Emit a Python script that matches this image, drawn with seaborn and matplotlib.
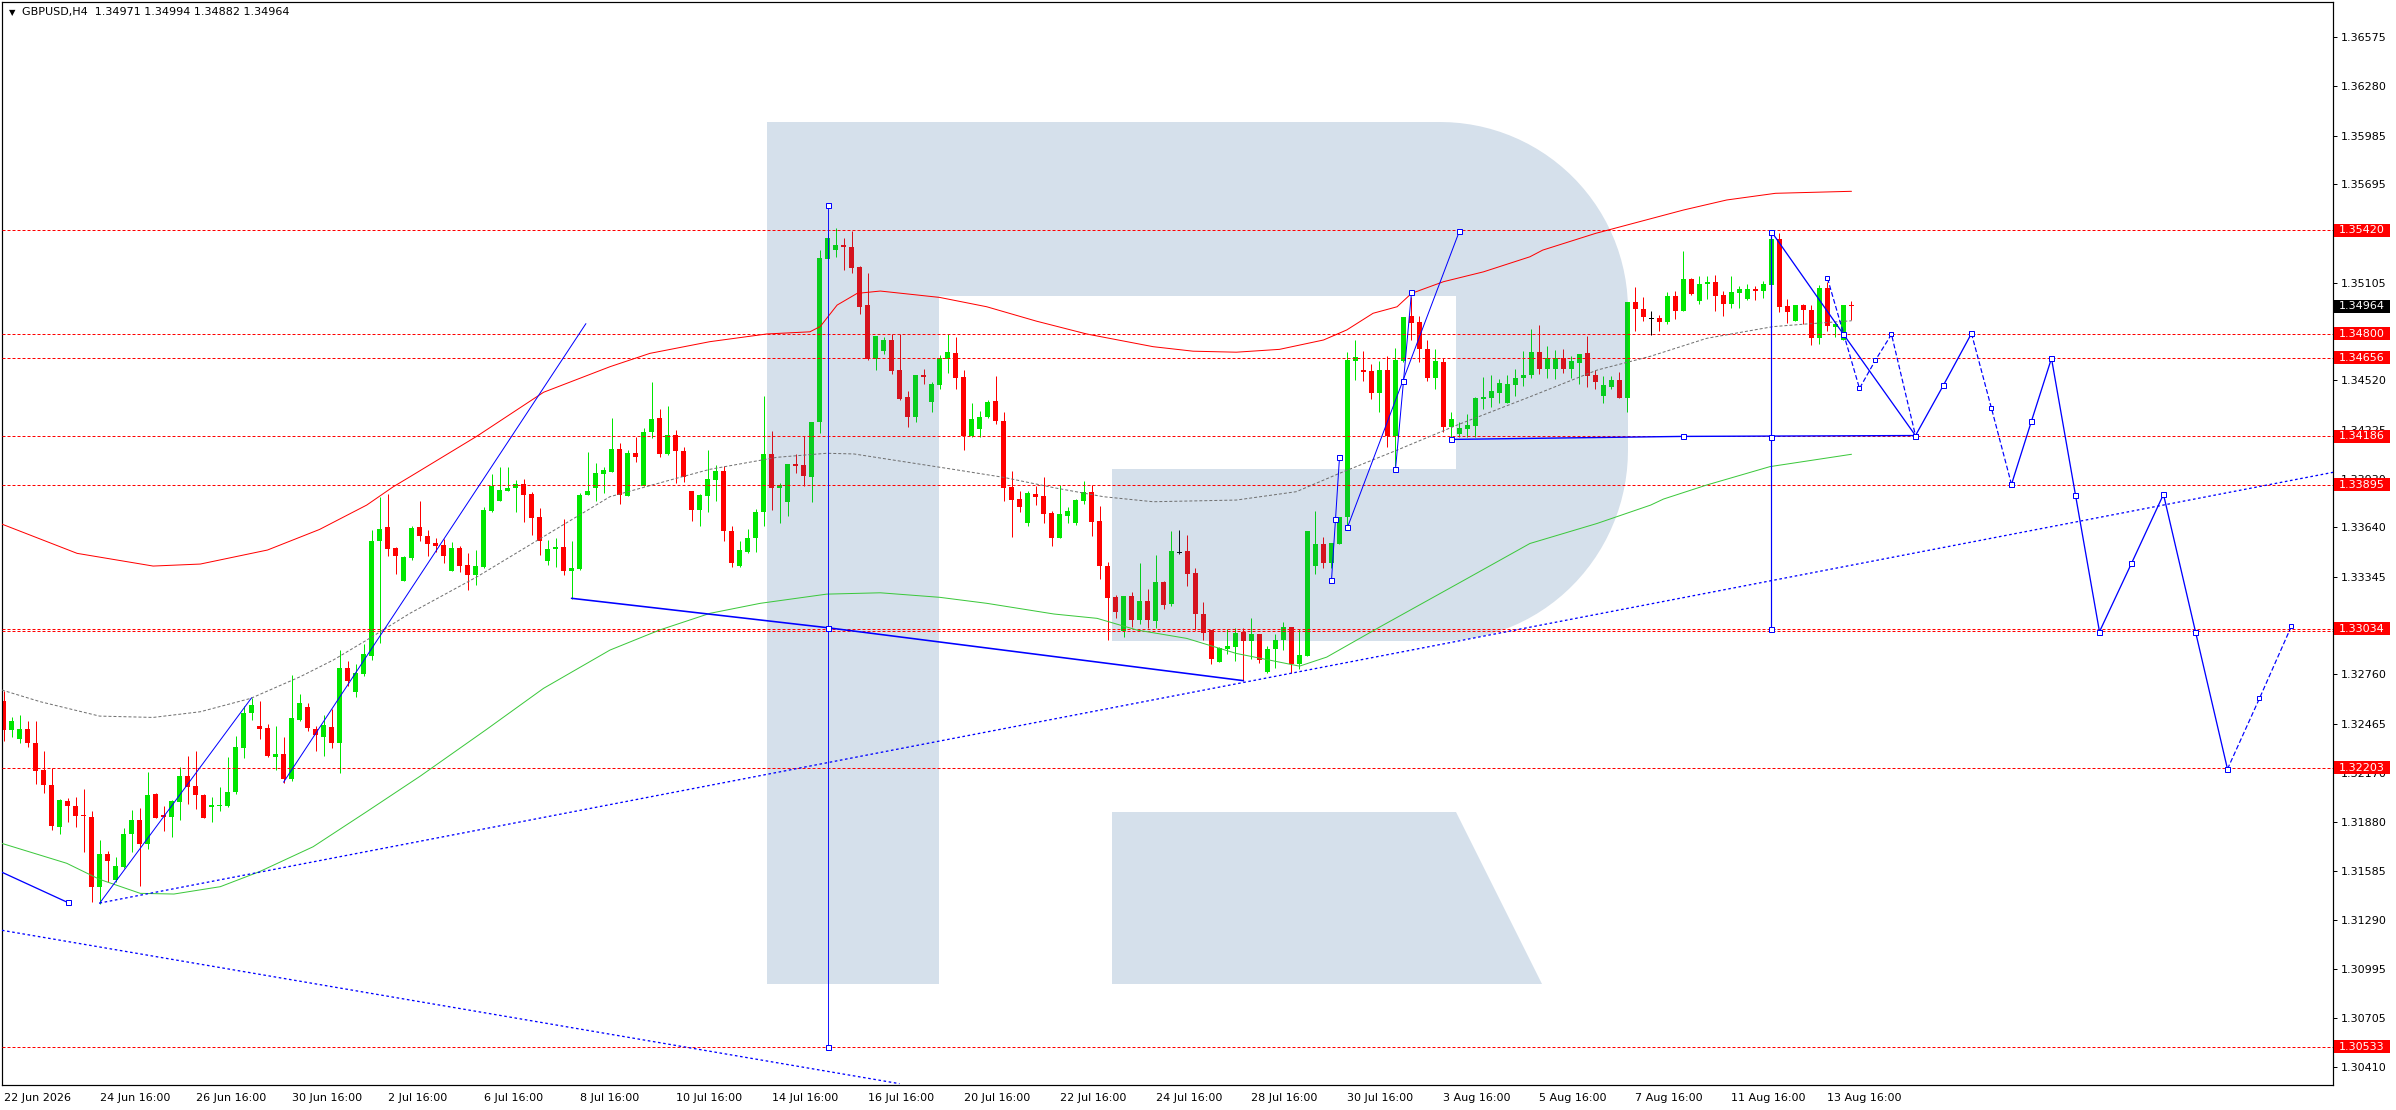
import matplotlib
matplotlib.use("Agg")
import matplotlib.pyplot as plt
import matplotlib.transforms as mtransforms
from matplotlib.path import Path
from matplotlib.patches import PathPatch, Rectangle
import numpy as np
import pandas as pd
import seaborn as sns

sns.set_style("white")
plt.rcParams["font.family"] = ["DejaVu Sans"]

SYMBOL = "GBPUSD,H4"
FIRST_BAR = -12  # bar 0 = 24 Jun 16:00

# H4 bars as (open, high, low, close)
bars_jun = [
    (1.32600, 1.32664, 1.32360, 1.32430), (1.32428, 1.32504, 1.32384, 1.32480),
    (1.32374, 1.32520, 1.32350, 1.32436), (1.32436, 1.32484, 1.32326, 1.32350),
    (1.32352, 1.32480, 1.32104, 1.32180), (1.32186, 1.32300, 1.32050, 1.32100),
    (1.32100, 1.32200, 1.31830, 1.31854), (1.31846, 1.32014, 1.31804, 1.32006),
    (1.32000, 1.32020, 1.31880, 1.31972), (1.31974, 1.32024, 1.31850, 1.31914),
    (1.31918, 1.32076, 1.31696, 1.31912), (1.31908, 1.31940, 1.31396, 1.31488),
    (1.31490, 1.31770, 1.31384, 1.31686), (1.31686, 1.31706, 1.31520, 1.31642),
    (1.31528, 1.31668, 1.31520, 1.31616), (1.31610, 1.31840, 1.31600, 1.31808),
    (1.31806, 1.31950, 1.31700, 1.31890), (1.31890, 1.31960, 1.31494, 1.31744),
    (1.31744, 1.32174, 1.31716, 1.32040), (1.32042, 1.32050, 1.31900, 1.31900),
    (1.31920, 1.31970, 1.31824, 1.31910), (1.31910, 1.32008, 1.31786, 1.32000),
    (1.31996, 1.32208, 1.31890, 1.32150), (1.32150, 1.32270, 1.31984, 1.32086),
    (1.32090, 1.32304, 1.31954, 1.32040), (1.32040, 1.32044, 1.31900, 1.31900),
    (1.31966, 1.32024, 1.31876, 1.31976), (1.31970, 1.32084, 1.31944, 1.31976),
    (1.31970, 1.32264, 1.31964, 1.32054), (1.32054, 1.32390, 1.32044, 1.32324),
    (1.32320, 1.32574, 1.32260, 1.32528), (1.32530, 1.32620, 1.32488, 1.32576),
    (1.32450, 1.32600, 1.32374, 1.32436), (1.32438, 1.32464, 1.32266, 1.32272),
    (1.32266, 1.32454, 1.32190, 1.32286), (1.32286, 1.32386, 1.32110, 1.32136),
    (1.32136, 1.32754, 1.32120, 1.32498), (1.32488, 1.32644, 1.32480, 1.32592),
    (1.32564, 1.32588, 1.32424, 1.32440), (1.32436, 1.32450, 1.32304, 1.32400),
    (1.32388, 1.32516, 1.32272, 1.32456), (1.32448, 1.32554, 1.32320, 1.32350),
    (1.32350, 1.32904, 1.32170, 1.32796), (1.32796, 1.32840, 1.32690, 1.32724),
    (1.32656, 1.32820, 1.32628, 1.32766), (1.32764, 1.32940, 1.32750, 1.32880),
    (1.32870, 1.33624, 1.32848, 1.33560), (1.33556, 1.33820, 1.32950, 1.33632),
    (1.33644, 1.33840, 1.33470, 1.33514), (1.33516, 1.33524, 1.33364, 1.33470),
    (1.33320, 1.33470, 1.33320, 1.33464), (1.33460, 1.33650, 1.33444, 1.33636),
]
bars_jul_a = [
    (1.33640, 1.33800, 1.33556, 1.33586), (1.33590, 1.33624, 1.33470, 1.33544),
    (1.33548, 1.33576, 1.33496, 1.33532), (1.33536, 1.33570, 1.33430, 1.33470),
    (1.33380, 1.33554, 1.33380, 1.33516), (1.33518, 1.33530, 1.33376, 1.33410),
    (1.33416, 1.33490, 1.33266, 1.33356), (1.33356, 1.33506, 1.33296, 1.33410),
    (1.33404, 1.33760, 1.33396, 1.33746), (1.33740, 1.33960, 1.33730, 1.33888),
    (1.33800, 1.34000, 1.33796, 1.33866), (1.33860, 1.34004, 1.33860, 1.33878),
    (1.33876, 1.33924, 1.33734, 1.33902), (1.33902, 1.33932, 1.33674, 1.33836),
    (1.33842, 1.33854, 1.33594, 1.33694), (1.33704, 1.33754, 1.33474, 1.33556),
    (1.33440, 1.33564, 1.33414, 1.33512), (1.33514, 1.33576, 1.33404, 1.33522),
    (1.33524, 1.33692, 1.33358, 1.33382), (1.33382, 1.33560, 1.33210, 1.33398),
    (1.33390, 1.33846, 1.33384, 1.33836), (1.33832, 1.34094, 1.33832, 1.33858),
    (1.33874, 1.34028, 1.33800, 1.33968), (1.33962, 1.34000, 1.33848, 1.33984),
    (1.33974, 1.34298, 1.33970, 1.34112), (1.34112, 1.34146, 1.33780, 1.33832),
    (1.33830, 1.34104, 1.33826, 1.34088), (1.34088, 1.34184, 1.34030, 1.34064),
    (1.33890, 1.34238, 1.33886, 1.34214), (1.34210, 1.34510, 1.34176, 1.34292),
    (1.34296, 1.34350, 1.34064, 1.34082), (1.34082, 1.34364, 1.34076, 1.34194),
    (1.34196, 1.34222, 1.33904, 1.34096), (1.34100, 1.34120, 1.33910, 1.33940),
    (1.33860, 1.33860, 1.33676, 1.33746), (1.33746, 1.33840, 1.33650, 1.33832),
    (1.33826, 1.34106, 1.33730, 1.33932), (1.33926, 1.34016, 1.33800, 1.33980),
    (1.33980, 1.34010, 1.33556, 1.33616), (1.33620, 1.33650, 1.33406, 1.33430),
    (1.33410, 1.33560, 1.33406, 1.33506), (1.33494, 1.33632, 1.33490, 1.33578),
    (1.33574, 1.33750, 1.33496, 1.33734), (1.33730, 1.34424, 1.33646, 1.34080),
    (1.34080, 1.34220, 1.33744, 1.33876), (1.33876, 1.33904, 1.33666, 1.33896),
    (1.33790, 1.34022, 1.33706, 1.34022), (1.34022, 1.34080, 1.33968, 1.34006),
    (1.34016, 1.34188, 1.33888, 1.33946), (1.33940, 1.34274, 1.33790, 1.34274),
]
bars_jul_b = [
    (1.34270, 1.35300, 1.34204, 1.35250), (1.35246, 1.35400, 1.35246, 1.35374),
    (1.35300, 1.35434, 1.35260, 1.35332), (1.35330, 1.35370, 1.35180, 1.35316),
    (1.35320, 1.35416, 1.35164, 1.35194), (1.35200, 1.35204, 1.34916, 1.34960),
    (1.34970, 1.35164, 1.34640, 1.34646), (1.34650, 1.34786, 1.34580, 1.34786),
    (1.34696, 1.34780, 1.34676, 1.34760), (1.34760, 1.34796, 1.34556, 1.34574),
    (1.34580, 1.34796, 1.34404, 1.34410), (1.34420, 1.34454, 1.34244, 1.34300),
    (1.34304, 1.34550, 1.34270, 1.34550), (1.34550, 1.34586, 1.34496, 1.34540),
    (1.34388, 1.34510, 1.34330, 1.34496), (1.34490, 1.34674, 1.34470, 1.34654),
    (1.34650, 1.34800, 1.34564, 1.34688), (1.34682, 1.34780, 1.34466, 1.34534),
    (1.34538, 1.34580, 1.34106, 1.34190), (1.34190, 1.34384, 1.34184, 1.34292),
    (1.34228, 1.34340, 1.34180, 1.34304), (1.34300, 1.34400, 1.34296, 1.34392),
    (1.34394, 1.34546, 1.34260, 1.34280), (1.34280, 1.34330, 1.33800, 1.33874),
    (1.33880, 1.33980, 1.33580, 1.33806), (1.33810, 1.33860, 1.33730, 1.33760),
    (1.33668, 1.33860, 1.33650, 1.33844), (1.33842, 1.33890, 1.33776, 1.33820),
    (1.33830, 1.33940, 1.33666, 1.33720), (1.33724, 1.33736, 1.33530, 1.33574),
    (1.33574, 1.33896, 1.33574, 1.33718), (1.33710, 1.33760, 1.33666, 1.33740),
    (1.33668, 1.33810, 1.33654, 1.33804), (1.33800, 1.33920, 1.33780, 1.33854),
    (1.33854, 1.33896, 1.33586, 1.33670), (1.33676, 1.33768, 1.33334, 1.33410),
    (1.33410, 1.33436, 1.32966, 1.33220), (1.33226, 1.33236, 1.33100, 1.33136),
    (1.33020, 1.33230, 1.32986, 1.33230), (1.33230, 1.33254, 1.33044, 1.33086),
    (1.33086, 1.33430, 1.33064, 1.33200), (1.33200, 1.33270, 1.33040, 1.33086),
    (1.33080, 1.33476, 1.33040, 1.33316), (1.33316, 1.33320, 1.33150, 1.33174),
    (1.33180, 1.33620, 1.33170, 1.33500), (1.33490, 1.33626, 1.33484, 1.33490),
    (1.33500, 1.33596, 1.33290, 1.33364), (1.33368, 1.33400, 1.33028, 1.33124),
    (1.33124, 1.33196, 1.32966, 1.33010), (1.33024, 1.33024, 1.32824, 1.32854),
    (1.32836, 1.32924, 1.32836, 1.32920), (1.32914, 1.33030, 1.32880, 1.32930),
    (1.32926, 1.33040, 1.32840, 1.33010),
]
bars_aug_a = [
    (1.33014, 1.33040, 1.32720, 1.32960), (1.32960, 1.33100, 1.32850, 1.33004),
    (1.33000, 1.33000, 1.32830, 1.32844), (1.32776, 1.32930, 1.32770, 1.32910),
    (1.32910, 1.33000, 1.32800, 1.32964), (1.32964, 1.33076, 1.32904, 1.33044),
    (1.33044, 1.33044, 1.32770, 1.32824), (1.32820, 1.33030, 1.32790, 1.32874),
    (1.32870, 1.33620, 1.32870, 1.33620), (1.33410, 1.33740, 1.33364, 1.33540),
    (1.33540, 1.33584, 1.33400, 1.33426), (1.33426, 1.33546, 1.33400, 1.33546),
    (1.33544, 1.33700, 1.33540, 1.33700), (1.33700, 1.34690, 1.33640, 1.34640),
    (1.34634, 1.34760, 1.34524, 1.34660), (1.34580, 1.34696, 1.34514, 1.34570),
    (1.34576, 1.34616, 1.34406, 1.34444), (1.34444, 1.34636, 1.34334, 1.34584),
    (1.34580, 1.34664, 1.34120, 1.34190), (1.34190, 1.34716, 1.34010, 1.34640),
    (1.34636, 1.34900, 1.34630, 1.34900), (1.34904, 1.35020, 1.34764, 1.34864),
    (1.34870, 1.34904, 1.34630, 1.34710), (1.34710, 1.34764, 1.34516, 1.34534),
    (1.34534, 1.34706, 1.34466, 1.34634), (1.34630, 1.34656, 1.34210, 1.34240),
    (1.34240, 1.34334, 1.34180, 1.34290), (1.34200, 1.34270, 1.34184, 1.34234),
    (1.34230, 1.34320, 1.34180, 1.34254), (1.34246, 1.34420, 1.34180, 1.34414),
    (1.34406, 1.34540, 1.34350, 1.34420), (1.34414, 1.34550, 1.34360, 1.34454),
    (1.34444, 1.34530, 1.34384, 1.34506), (1.34384, 1.34550, 1.34384, 1.34496),
    (1.34490, 1.34590, 1.34426, 1.34536), (1.34534, 1.34696, 1.34484, 1.34554),
    (1.34554, 1.34826, 1.34534, 1.34688), (1.34688, 1.34850, 1.34556, 1.34590),
    (1.34588, 1.34724, 1.34534, 1.34656), (1.34586, 1.34704, 1.34530, 1.34656),
    (1.34656, 1.34710, 1.34564, 1.34586), (1.34586, 1.34664, 1.34534, 1.34634),
    (1.34626, 1.34680, 1.34500, 1.34680), (1.34686, 1.34784, 1.34480, 1.34544),
    (1.34550, 1.34580, 1.34470, 1.34510), (1.34426, 1.34544, 1.34384, 1.34490),
    (1.34480, 1.34544, 1.34470, 1.34524), (1.34524, 1.34570, 1.34414, 1.34414),
    (1.34414, 1.34990, 1.34330, 1.34990), (1.34990, 1.35080, 1.34816, 1.34950),
    (1.34950, 1.35020, 1.34876, 1.34900),
]
bars_aug_b = [
    (1.34890, 1.34934, 1.34790, 1.34890), (1.34894, 1.34910, 1.34816, 1.34870),
    (1.34870, 1.35050, 1.34860, 1.35024), (1.35024, 1.35056, 1.34886, 1.34936),
    (1.34936, 1.35294, 1.34936, 1.35126), (1.35126, 1.35136, 1.35034, 1.35040),
    (1.34996, 1.35144, 1.34976, 1.35100), (1.35100, 1.35144, 1.35010, 1.35110),
    (1.35108, 1.35150, 1.34934, 1.35026), (1.35030, 1.35054, 1.34906, 1.34980),
    (1.34980, 1.35144, 1.34954, 1.35048), (1.35044, 1.35086, 1.34954, 1.35066),
    (1.35006, 1.35100, 1.35004, 1.35066), (1.35066, 1.35084, 1.35000, 1.35056),
    (1.35056, 1.35114, 1.35014, 1.35096), (1.35090, 1.35410, 1.35090, 1.35366),
    (1.35366, 1.35404, 1.34930, 1.34960), (1.34964, 1.35006, 1.34864, 1.34930),
    (1.34876, 1.34970, 1.34876, 1.34970), (1.34970, 1.34980, 1.34860, 1.34940),
    (1.34944, 1.34970, 1.34730, 1.34774), (1.34774, 1.35090, 1.34736, 1.35076),
    (1.35076, 1.35110, 1.34816, 1.34846), (1.34840, 1.34870, 1.34780, 1.34860),
    (1.34764, 1.34970, 1.34764, 1.34970), (1.34971, 1.34994, 1.34882, 1.34964),
]

# envelope lines: (bar, price)
upper_x = [-12.2, -2.8, 6.7, 12.6, 21, 27.5, 33.4, 36.7, 39, 47.2, 55.5, 63.8, 68.8, 76.3,
           83.4, 88.8, 90.1, 92.2, 94.7, 97.6, 105, 110.9, 117.1, 123.4, 131.7, 136.7,
           142.1, 147.5, 153, 155.9, 159.2, 162.2, 164, 168, 173, 178.8, 180.4, 187,
           192.5, 198, 203.4, 209.5, 219]
upper_y = [1.33660, 1.33485, 1.33409, 1.33421, 1.33505, 1.33628, 1.33774, 1.33883, 1.33949,
           1.34187, 1.34449, 1.34602, 1.34682, 1.34752, 1.34798, 1.34811, 1.34843, 1.34971,
           1.35041, 1.35055, 1.35017, 1.34961, 1.34875, 1.34798, 1.34722, 1.34695, 1.34689,
           1.34706, 1.34762, 1.34822, 1.34922, 1.34961, 1.35041, 1.35111, 1.35170, 1.35260,
           1.35300, 1.35400, 1.35470, 1.35540, 1.35600, 1.35640, 1.35652]
mid_x = [-12.2, -7.4, 0, 6.7, 12.6, 18.9, 25.1, 29.2, 33.4, 38.8, 47.2, 55.5, 63.8, 72.1,
         76.3, 84.7, 90.9, 94.3, 100.5, 106.7, 113, 119.3, 125.5, 131.7, 142.1, 149.6, 155,
         162.2, 169.7, 178.8, 187.2, 193.9, 200.9, 209.2, 213.4, 219]
mid_y = [1.32667, 1.32597, 1.32511, 1.32503, 1.32537, 1.32617, 1.32747, 1.32846, 1.32966,
         1.33126, 1.33345, 1.33585, 1.33824, 1.33934, 1.33988, 1.34060, 1.34084, 1.34080,
         1.34034, 1.33988, 1.33940, 1.33878, 1.33824, 1.33794, 1.33804, 1.33854, 1.33964,
         1.34103, 1.34253, 1.34422, 1.34582, 1.34665, 1.34772, 1.34842, 1.34858, 1.34877]
lower_x = [-12.2, -4.1, 0, 5.1, 9.3, 15.1, 20, 26.7, 33.4, 40.1, 48.4, 55.5, 63.8, 70, 76.3,
           82.6, 90.9, 97.6, 105, 110.9, 119.3, 124.7, 129.7, 135.9, 142.1, 150, 153.4,
           160.1, 170.6, 178.8, 187.2, 193.9, 195.5, 200.9, 208.8, 219]
lower_y = [1.31749, 1.31630, 1.31534, 1.31450, 1.31446, 1.31490, 1.31580, 1.31729, 1.31939,
           1.32152, 1.32432, 1.32677, 1.32906, 1.33026, 1.33126, 1.33186, 1.33241, 1.33249,
           1.33222, 1.33186, 1.33122, 1.33096, 1.33026, 1.32976, 1.32886, 1.32810, 1.32864,
           1.33046, 1.33325, 1.33544, 1.33664, 1.33774, 1.33810, 1.33894, 1.34004, 1.34078]

# horizontal levels and their price tags
level_lines = [1.35420, 1.34800, 1.34656, 1.34186, 1.33895, 1.33034, 1.33022, 1.32203, 1.30533]
level_tags = [1.35420, 1.34800, 1.34656, 1.34186, 1.33895, 1.33034, 1.32203, 1.30533]
last_price = 1.34964

price_ticks = [1.36575, 1.36280, 1.35985, 1.35695, 1.35400, 1.35105, 1.34810, 1.34520,
               1.34225, 1.33930, 1.33640, 1.33345, 1.33050, 1.32760, 1.32465, 1.32170,
               1.31880, 1.31585, 1.31290, 1.30995, 1.30705, 1.30410]
date_ticks = [-12, 0, 12, 24, 36, 48, 60, 72, 84, 96, 108, 120, 132, 144, 156, 168, 180,
              192, 204, 216]
date_labels = ["22 Jun 2026", "24 Jun 16:00", "26 Jun 16:00", "30 Jun 16:00", "2 Jul 16:00",
               "6 Jul 16:00", "8 Jul 16:00", "10 Jul 16:00", "14 Jul 16:00", "16 Jul 16:00",
               "20 Jul 16:00", "22 Jul 16:00", "24 Jul 16:00", "28 Jul 16:00", "30 Jul 16:00",
               "3 Aug 16:00", "5 Aug 16:00", "7 Aug 16:00", "11 Aug 16:00", "13 Aug 16:00"]

# drawn objects (bar, price)
trend_up = [(0, 1.31392), (279.2, 1.33970)]
trend_down = [(-12.2, 1.31229), (100, 1.30311)]
left_leg = [(-13, 1.31594), (-4, 1.31396)]
rise_a = [(0, 1.31390), (19, 1.32620)]
rise_b = [(23, 1.32115), (60.8, 1.34860)]
base_line = [(59, 1.33216), (91, 1.33040), (143, 1.32723)]
vert_a = [(91, 1.35570), (91, 1.33040), (91, 1.30533)]
zig_a = [(154, 1.33325), (154.5, 1.33689), (155, 1.34060)]
rise_c = [(156, 1.33641), (170, 1.35415)]
zig_b = [(162, 1.33988), (163, 1.34516), (164, 1.35047)]
flat_line = [(169, 1.34167), (198, 1.34185), (227, 1.34190)]
vert_b = [(209, 1.35410), (209, 1.34183), (209, 1.33034)]
fc_solid_a = [(209, 1.35410), (218, 1.34796), (227, 1.34190), (230.5, 1.34492), (234, 1.34801)]
fc_solid_b = [(239, 1.33898), (241.5, 1.34277), (244, 1.34652), (247, 1.33834), (250, 1.33016),
              (254, 1.33425), (258, 1.33838), (262, 1.33016), (266, 1.32194)]
fc_dash_a = [(216, 1.35131), (220, 1.34472), (222, 1.34642), (224, 1.34796), (227, 1.34190)]
fc_dash_b = [(234, 1.34801), (236.5, 1.34353), (239, 1.33898)]
fc_dash_c = [(266, 1.32194), (270, 1.32617), (274, 1.33050)]

# ---- layout (pixels of a 2396x1110 canvas) ----
W, H = 2396, 1110
AX_L, AX_R, AX_T, AX_B = 2, 2333, 2, 1085
XLIM = (-12.19, 279.19)
YLIM = (1.30303, 1.36785)
BLUE = "#0000FF"
UP, DOWN = "#00E600", "#FF0000"
PX = 0.72  # one pixel in points

fig = plt.figure(figsize=(W / 100, H / 100), dpi=100)
ax = fig.add_axes([AX_L / W, 1 - AX_B / H, (AX_R - AX_L) / W, (AX_B - AX_T) / H])
ax.set_xlim(*XLIM)
ax.set_ylim(*YLIM)
px_price = (YLIM[1] - YLIM[0]) / (AX_B - AX_T)

# candles
bars = pd.DataFrame(bars_jun + bars_jul_a + bars_jul_b + bars_aug_a + bars_aug_b,
                    columns=["open", "high", "low", "close"])
bars["bar"] = np.arange(FIRST_BAR, FIRST_BAR + len(bars))
colors = np.where(bars.close > bars.open, UP, np.where(bars.close < bars.open, DOWN, "#000000"))
ax.vlines(bars.bar, bars.low, bars.high, colors=colors, linewidth=PX, zorder=2)
body_low = np.minimum(bars.open, bars.close)
body_h = np.maximum((bars.close - bars.open).abs(), px_price)
ax.bar(bars.bar, body_h, bottom=body_low, width=0.6, color=colors, linewidth=0, zorder=2.1)

# watermark "R" (drawn as a translucent overlay, pixel design units)
def to_axes(pts):
    pts = np.asarray(pts, float)
    return np.column_stack([(pts[:, 0] - AX_L) / (AX_R - AX_L), (AX_B - pts[:, 1]) / (AX_B - AX_T)])

t1 = np.linspace(np.pi / 2, 0, 30)
t2 = np.linspace(0, -np.pi / 2, 30)
arc1 = np.column_stack([1440 + 188 * np.cos(t1), 310 - 188 * np.sin(t1)])
arc2 = np.column_stack([1440 + 188 * np.cos(t2), 450 - 191 * np.sin(t2)])
r_body = np.vstack([[[767, 122]], arc1, arc2,
                    [[1112, 641], [1112, 469], [1456, 469], [1456, 296], [939, 296],
                     [939, 984], [767, 984], [767, 122]]])
r_leg = np.array([[1112, 812], [1456, 812], [1542, 984], [1112, 984], [1112, 812]])
for shape in (r_body, r_leg):
    ax.add_patch(PathPatch(Path(to_axes(shape)), transform=ax.transAxes,
                           facecolor="#2D649B", alpha=0.2, edgecolor="none", zorder=2.6))

# envelope lines
env = pd.DataFrame({"bar": upper_x, "price": upper_y})
sns.lineplot(data=env, x="bar", y="price", ax=ax, color="#FF0000", linewidth=PX,
             estimator=None, sort=False, zorder=3.2)
env = pd.DataFrame({"bar": lower_x, "price": lower_y})
sns.lineplot(data=env, x="bar", y="price", ax=ax, color="#3CC83C", linewidth=PX,
             estimator=None, sort=False, zorder=3.2)
env = pd.DataFrame({"bar": mid_x, "price": mid_y})
sns.lineplot(data=env, x="bar", y="price", ax=ax, color="#707070", linewidth=PX,
             linestyle=(0, (3, 2)), estimator=None, sort=False, zorder=3.2)

# level lines
for lvl in level_lines:
    ax.axhline(lvl, color="#FF0000", linewidth=PX, linestyle=(0, (3, 2)), zorder=3)


def draw(points, style="-", markers=(), lw=1.0, msize=3.6):
    xs, ys = zip(*points)
    ax.plot(xs, ys, color=BLUE, linewidth=lw * PX, linestyle=style, zorder=4)
    for i in markers:
        ax.plot(xs[i], ys[i], marker="s", markersize=msize, markerfacecolor="white",
                markeredgecolor=BLUE, markeredgewidth=PX, linestyle="none", zorder=5)


draw(trend_up, style=(0, (2, 2)), lw=1.3)
draw(trend_down, style=(0, (2, 2)), lw=1.3)
draw(left_leg, markers=[1], lw=1.3)
draw(rise_a)
draw(rise_b)
draw(base_line, markers=[1], lw=1.6)
draw(vert_a, markers=[0, 1, 2], lw=0.9)
draw(zig_a, markers=[0, 1, 2])
draw(rise_c, markers=[0, 1])
draw(zig_b, markers=[0, 1, 2])
draw(flat_line, markers=[0, 1, 2], lw=1.4)
draw(vert_b, markers=[0, 1, 2], lw=1.2)
draw(fc_solid_a, markers=[0, 1, 2, 3, 4], lw=1.3)
draw(fc_solid_b, markers=list(range(9)), lw=1.3)
draw(fc_dash_a, style=(0, (4, 2)), lw=1.2, markers=[0, 1, 2, 3], msize=2.6)
draw(fc_dash_b, style=(0, (4, 2)), lw=1.2, markers=[1], msize=2.6)
draw(fc_dash_c, style=(0, (4, 2)), lw=1.2, markers=[1, 2], msize=2.6)

# axes styling
for sp in ax.spines.values():
    sp.set_visible(True)
    sp.set_color("black")
    sp.set_linewidth(PX * 1.2)
ax.set_xlabel("")
ax.set_ylabel("")
ax.yaxis.tick_right()
ax.set_yticks(price_ticks)
ax.set_yticklabels([f"{v:.5f}" for v in price_ticks])
ax.set_xticks(date_ticks)
ax.set_xticklabels(date_labels, ha="left")
ax.tick_params(axis="y", direction="out", length=3, width=PX, pad=2.5, labelsize=8,
               colors="black", left=False, right=True)
ax.tick_params(axis="x", direction="out", length=3, width=PX, pad=2.5, labelsize=8,
               colors="black")
for lab in ax.get_xticklabels():
    lab.set_x(lab.get_position()[0])

# price tags on the right scale
tag_tr = mtransforms.blended_transform_factory(ax.transAxes, ax.transData)
tag_w = 56 / (AX_R - AX_L)
tag_h = 13 * px_price
text_x = (2339 - AX_L) / (AX_R - AX_L)
for val, fc in [(v, "#FF0000") for v in level_tags] + [(last_price, "#000000")]:
    ax.add_patch(Rectangle((1.0004, val - tag_h / 2), tag_w, tag_h, transform=tag_tr,
                           facecolor=fc, edgecolor="none", clip_on=False, zorder=10))
    ax.text(text_x, val, f"{val:.5f}", transform=tag_tr, color="white", fontsize=8,
            va="center", ha="left", clip_on=False, zorder=11)

# header
last = bars.iloc[-1]
ax.text((12 - AX_L) / (AX_R - AX_L), (AX_B - 12.5) / (AX_B - AX_T), "▼", transform=ax.transAxes,
        fontsize=6, ha="center", va="center", color="black", zorder=12)
ax.text((22 - AX_L) / (AX_R - AX_L), (AX_B - 12.5) / (AX_B - AX_T),
        f"{SYMBOL}  {last.open:.5f} {last.high:.5f} {last.low:.5f} {last.close:.5f}",
        transform=ax.transAxes, fontsize=8, ha="left", va="center", color="black", zorder=12)

fig.savefig("out.png", dpi=100)
